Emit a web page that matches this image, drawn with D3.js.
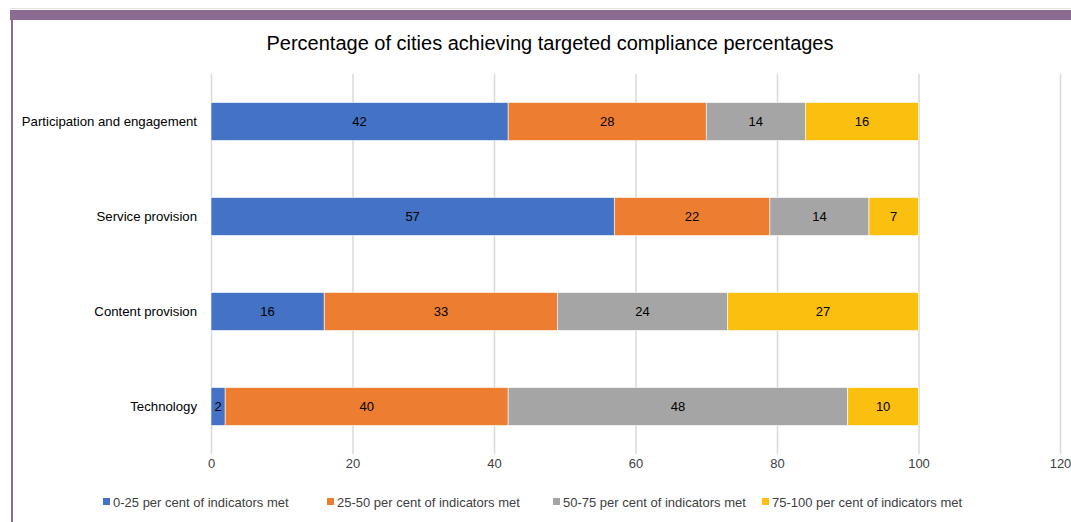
<!DOCTYPE html>
<html>
<head>
<meta charset="utf-8">
<script src="https://cdn.jsdelivr.net/npm/d3@7"></script>
<style>
  html, body { margin: 0; padding: 0; background: #fff; }
  svg { display: block; font-family: "Liberation Sans", Arial, sans-serif; }
</style>
</head>
<body>
<svg id="chart" width="1071" height="522"></svg>
<script>
// Categories (top to bottom) and stacked series values (percent of cities)
const categories = ["Participation and engagement", "Service provision", "Content provision", "Technology"];
const seriesNames = [
  "0-25 per cent of indicators met",
  "25-50 per cent of indicators met",
  "50-75 per cent of indicators met",
  "75-100 per cent of indicators met"
];
const met0to25   = [42, 57, 16, 2];
const met25to50  = [28, 22, 33, 40];
const met50to75  = [14, 14, 24, 48];
const met75to100 = [16, 7, 27, 10];
const xTicks = [0, 20, 40, 60, 80, 100, 120];
const colors = ["#4472C4", "#ED7D31", "#A5A5A5", "#FBBF10"];
const title = "Percentage of cities achieving targeted compliance percentages";

const seriesValues = [met0to25, met25to50, met50to75, met75to100];
const rows = categories.map((c, i) => {
  const r = { category: c };
  seriesNames.forEach((s, j) => { r[s] = seriesValues[j][i]; });
  return r;
});
const stacked = d3.stack().keys(seriesNames)(rows);

const svg = d3.select("#chart");

// Page frame: purple header band and left rule
svg.append("line").attr("x1", 10).attr("x2", 1071).attr("y1", 8.5).attr("y2", 8.5)
  .attr("stroke", "#e3e3e3").attr("stroke-width", 1);
svg.append("rect").attr("x", 10).attr("y", 10).attr("width", 1061).attr("height", 10)
  .attr("fill", "#8C6B93");
svg.append("rect").attr("x", 11).attr("y", 20).attr("width", 2).attr("height", 502)
  .attr("fill", "#8C6B93");

// Title
svg.append("text").attr("x", 550).attr("y", 50).attr("text-anchor", "middle")
  .attr("font-size", 20).attr("fill", "#000").text(title);

// Scales
const x = d3.scaleLinear().domain([0, 120]).range([211, 1060]);
const y = d3.scaleBand().domain(categories).range([74, 454]).paddingInner(0.6).paddingOuter(0.3);

// Vertical gridlines with tick labels
const xAxis = d3.axisBottom(x).tickValues(xTicks).tickSize(-380).tickFormat(d3.format("d"));
const gx = svg.append("g").attr("transform", "translate(0,454)").call(xAxis);
gx.select(".domain").remove();
gx.selectAll(".tick line").attr("stroke", "#d9d9d9").attr("stroke-width", 1.5);
gx.selectAll(".tick text").attr("y", 14).attr("dy", "0").attr("font-size", 13)
  .attr("fill", "#404040").attr("font-family", "Liberation Sans, Arial, sans-serif");

// Category labels
const gy = svg.append("g").attr("transform", "translate(211,0)")
  .call(d3.axisLeft(y).tickSize(0).tickPadding(14));
gy.select(".domain").remove();
gy.selectAll(".tick text").attr("font-size", 13.2).attr("fill", "#000")
  .attr("font-family", "Liberation Sans, Arial, sans-serif");

// Stacked bars
const layers = svg.append("g").selectAll("g").data(stacked).join("g")
  .attr("fill", (d, i) => colors[i]);
layers.selectAll("rect").data(d => d).join("rect")
  .attr("x", d => x(d[0]))
  .attr("y", d => y(d.data.category))
  .attr("width", d => x(d[1]) - x(d[0]))
  .attr("height", y.bandwidth())
  .attr("stroke", "#fff").attr("stroke-width", 0.6);

// Value labels centred on each segment
layers.selectAll("text").data(d => d.map(v => ({ v, key: d.key }))).join("text")
  .attr("x", d => (x(d.v[0]) + x(d.v[1])) / 2)
  .attr("y", d => y(d.v.data.category) + y.bandwidth() / 2)
  .attr("dy", "0.35em").attr("text-anchor", "middle")
  .attr("font-size", 13).attr("fill", "#000")
  .text(d => d.v.data[d.key]);

// Legend
const legendX = [103, 327, 553, 762];
const legend = svg.append("g").selectAll("g").data(seriesNames).join("g")
  .attr("transform", (d, i) => `translate(${legendX[i]},502)`);
legend.append("rect").attr("x", 0).attr("y", -4).attr("width", 7).attr("height", 7)
  .attr("fill", (d, i) => colors[i]);
legend.append("text").attr("x", 10).attr("y", 0).attr("dy", "0.35em")
  .attr("font-size", 13).attr("fill", "#404040").text(d => d);
</script>
</body>
</html>
